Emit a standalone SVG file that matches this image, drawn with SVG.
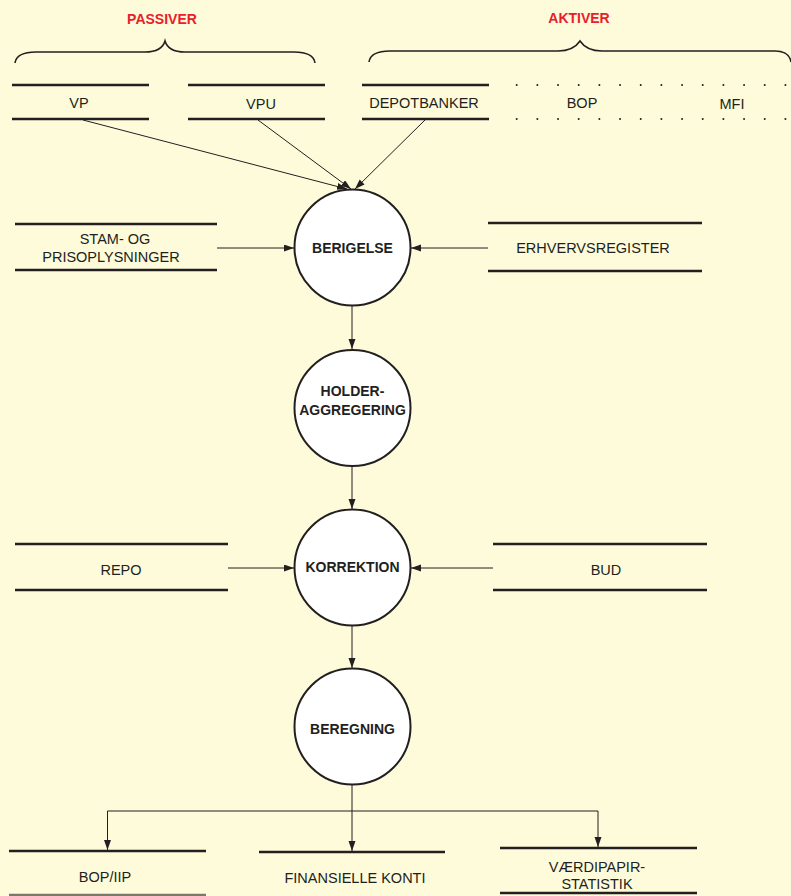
<svg xmlns="http://www.w3.org/2000/svg" width="791" height="896" viewBox="0 0 791 896">
<defs>
<marker id="ah" markerUnits="userSpaceOnUse" markerWidth="11" markerHeight="8" refX="10" refY="3.5" orient="auto">
<path d="M0,0 L10,3.5 L0,7 z" fill="#231f20"/>
</marker>
<style>
.bar{stroke:#231f20;stroke-width:2.6;fill:none}
.dot{stroke:#231f20;stroke-width:2;stroke-linecap:round;stroke-dasharray:0 20.67;fill:none}
.brace{stroke:#231f20;stroke-width:1.6;fill:none}
.con{stroke:#231f20;stroke-width:1;fill:none}
.arr{stroke:#231f20;stroke-width:1;fill:none;marker-end:url(#ah)}
.proc{fill:#ffffff;stroke:#231f20;stroke-width:2}
.lbl{font-family:"Liberation Sans",Arial,sans-serif;font-size:14.5px;fill:#231f20;text-anchor:middle}
.plbl{font-family:"Liberation Sans",Arial,sans-serif;font-size:14px;font-weight:bold;fill:#231f20;text-anchor:middle}
.head{font-family:"Liberation Sans",Arial,sans-serif;font-size:14px;font-weight:bold;fill:#e8202a;text-anchor:middle}
</style>
</defs>
<rect x="0" y="0" width="791" height="896" fill="#fefbda"/>

<g id="passiver">
<text class="head" x="162" y="24">PASSIVER</text>
<path class="brace" d="M15,63 C16,56 22,52 36,52 L145,52 C156,52 163,48 165,41 C167,48 174,52 185,52 L294,52 C308,52 314,56 315,63"/>
</g>
<g id="aktiver">
<text class="head" x="579" y="23">AKTIVER</text>
<path class="brace" d="M369,62 C370,55 376,51 390,51 L558,51 C569,51 576,47 580,41 C584,47 591,51 602,51 L775,51 C786,51 790,56 791,62"/>
</g>

<g id="vp">
<line class="bar" x1="12" y1="85" x2="149" y2="85"/>
<line class="bar" x1="12" y1="119" x2="149" y2="119"/>
<text class="lbl" x="79" y="108">VP</text>
</g>
<g id="vpu">
<line class="bar" x1="188" y1="85" x2="325" y2="85"/>
<line class="bar" x1="188" y1="119" x2="325" y2="119"/>
<text class="lbl" x="261" y="109">VPU</text>
</g>
<g id="depotbanker">
<line class="bar" x1="362" y1="85" x2="489" y2="85"/>
<line class="bar" x1="362" y1="119" x2="489" y2="119"/>
<text class="lbl" x="424" y="108">DEPOTBANKER</text>
</g>
<g id="bop-mfi">
<line class="dot" x1="516.7" y1="85" x2="791" y2="85"/>
<line class="dot" x1="516.7" y1="119" x2="791" y2="119"/>
<text class="lbl" x="582" y="108">BOP</text>
<text class="lbl" x="732" y="109">MFI</text>
</g>

<g id="stam">
<line class="bar" x1="15" y1="224" x2="217" y2="224"/>
<line class="bar" x1="15" y1="270" x2="217" y2="270"/>
<text class="lbl" x="115" y="244">STAM- OG</text>
<text class="lbl" x="111" y="262">PRISOPLYSNINGER</text>
</g>
<g id="erhvervsregister">
<line class="bar" x1="488" y1="223" x2="702" y2="223"/>
<line class="bar" x1="488" y1="271" x2="702" y2="271"/>
<text class="lbl" x="593" y="253">ERHVERVSREGISTER</text>
</g>
<g id="repo">
<line class="bar" x1="15" y1="544" x2="228" y2="544"/>
<line class="bar" x1="15" y1="590" x2="228" y2="590"/>
<text class="lbl" x="121" y="575">REPO</text>
</g>
<g id="bud">
<line class="bar" x1="493" y1="544" x2="707" y2="544"/>
<line class="bar" x1="493" y1="590" x2="707" y2="590"/>
<text class="lbl" x="606" y="575">BUD</text>
</g>

<g id="berigelse">
<circle class="proc" cx="352.5" cy="247.5" r="58"/>
<text class="plbl" x="352.5" y="253">BERIGELSE</text>
</g>
<g id="holder">
<circle class="proc" cx="352.5" cy="408" r="58"/>
<text class="plbl" x="352.5" y="396">HOLDER-</text>
<text class="plbl" x="352.5" y="415">AGGREGERING</text>
</g>
<g id="korrektion">
<circle class="proc" cx="352.5" cy="567.5" r="58"/>
<text class="plbl" x="352.5" y="572">KORREKTION</text>
</g>
<g id="beregning">
<circle class="proc" cx="352.5" cy="726.5" r="58"/>
<text class="plbl" x="352.5" y="734">BEREGNING</text>
</g>

<g id="bopiip">
<line class="bar" x1="9" y1="851" x2="206" y2="851"/>
<line class="bar" x1="9" y1="895" x2="206" y2="895" stroke-opacity="0.6"/>
<text class="lbl" x="105" y="882">BOP/IIP</text>
</g>
<g id="finansielle">
<line class="bar" x1="259" y1="852" x2="445" y2="852"/>
<text class="lbl" x="355" y="883">FINANSIELLE KONTI</text>
</g>
<g id="vaerdipapir">
<line class="bar" x1="500" y1="848" x2="697" y2="848"/>
<line class="bar" x1="500" y1="893" x2="697" y2="893"/>
<text class="lbl" x="597" y="872">VÆRDIPAPIR-</text>
<text class="lbl" x="597" y="889">STATISTIK</text>
</g>

<g id="connectors">
<line class="arr" x1="83" y1="120" x2="347" y2="189"/>
<line class="arr" x1="258" y1="120" x2="351" y2="189"/>
<line class="arr" x1="425" y1="120" x2="355" y2="189"/>
<line class="arr" x1="217" y1="248" x2="294" y2="248"/>
<line class="arr" x1="488" y1="248" x2="411" y2="248"/>
<line class="arr" x1="352" y1="306" x2="352" y2="349"/>
<line class="arr" x1="352" y1="466" x2="352" y2="509"/>
<line class="arr" x1="228" y1="568" x2="294" y2="568"/>
<line class="arr" x1="493" y1="568" x2="411" y2="568"/>
<line class="arr" x1="352" y1="626" x2="352" y2="668"/>
<path class="con" d="M352,785 L352,811 M107.5,811 L598,811"/>
<line class="arr" x1="107.5" y1="811" x2="107.5" y2="850"/>
<line class="arr" x1="352" y1="811" x2="352" y2="851"/>
<line class="arr" x1="598" y1="811" x2="598" y2="847"/>
</g>
</svg>
